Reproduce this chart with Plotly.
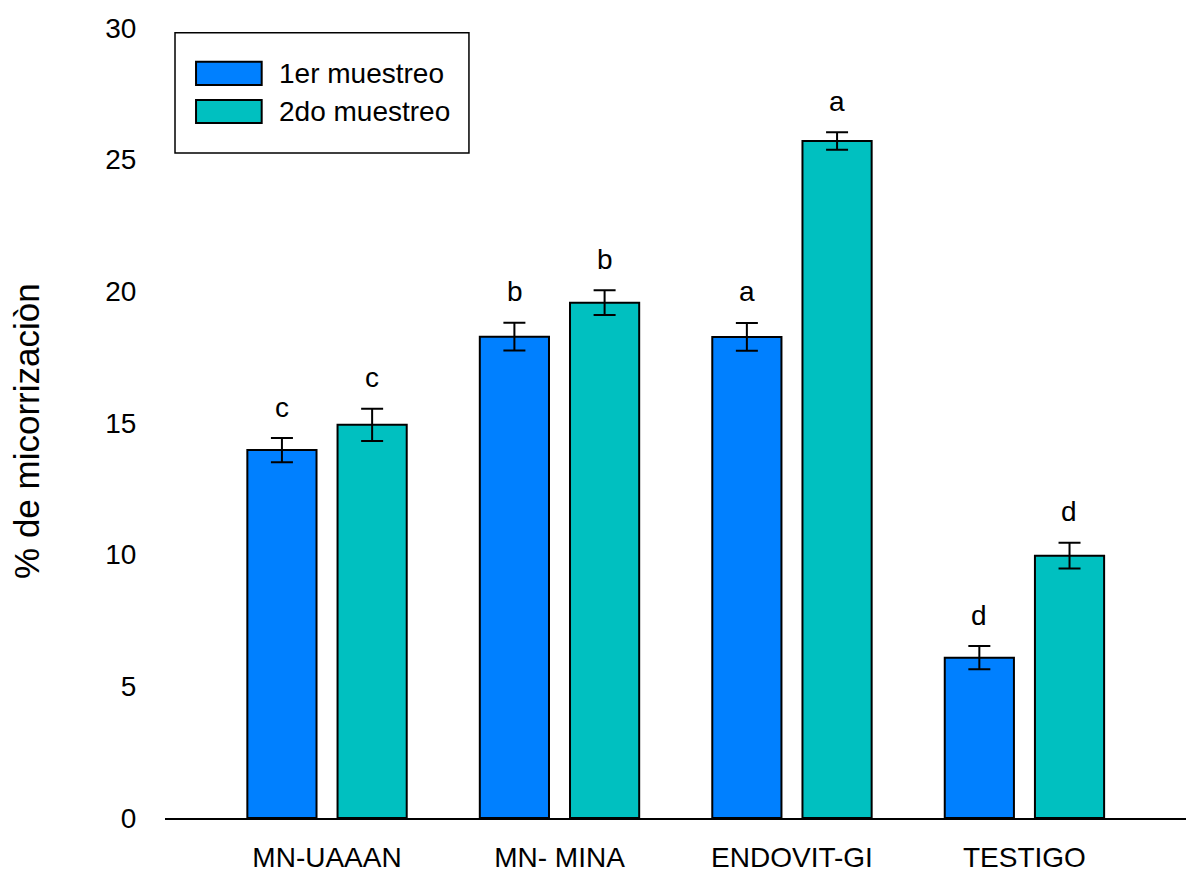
import plotly.graph_objects as go

categories = ["MN-UAAAN", "MN- MINA", "ENDOVIT-GI", "TESTIGO"]
series_names = ["1er muestreo", "2do muestreo"]
muestreo1 = [13.97, 18.28, 18.27, 6.09]
muestreo1_err = [0.46, 0.53, 0.53, 0.44]
muestreo2 = [14.93, 19.57, 25.71, 9.96]
muestreo2_err = [0.61, 0.47, 0.33, 0.49]
letters1 = ["c", "b", "a", "d"]
letters2 = ["c", "b", "a", "d"]
colors = ["#0080FF", "#00C0C0"]
y_ticks = [0, 5, 10, 15, 20, 25, 30]
y_title = "% de micorrizaciòn"

FONT = "Liberation Sans, Arial, sans-serif"

fig = go.Figure()
for name, vals, errs, col in [
    (series_names[0], muestreo1, muestreo1_err, colors[0]),
    (series_names[1], muestreo2, muestreo2_err, colors[1]),
]:
    fig.add_trace(go.Bar(
        x=categories, y=vals, name=name,
        marker=dict(color=col, line=dict(color="black", width=2)),
        error_y=dict(type="data", array=errs, color="black", thickness=2, width=11),
        showlegend=False,
    ))

annotations = []
for i, c in enumerate(categories):
    for letters, vals, errs, shift in [
        (letters1, muestreo1, muestreo1_err, -45),
        (letters2, muestreo2, muestreo2_err, 45),
    ]:
        annotations.append(dict(
            x=c, y=vals[i] + errs[i], xref="x", yref="y",
            text=letters[i], showarrow=False, xshift=shift, yshift=31,
            yanchor="middle", font=dict(size=28, color="black", family=FONT),
        ))

# custom legend (box, swatches, labels) in paper coordinates
shapes = [dict(type="rect", xref="paper", yref="paper",
               x0=0.0098, x1=0.2977, y0=0.8418, y1=0.994,
               line=dict(color="black", width=1.5), fillcolor="white", layer="above")]
sw_y = [(0.9573, 0.9278), (0.9089, 0.8797)]
txt_y = [0.943, 0.8943]
for k in range(2):
    shapes.append(dict(type="rect", xref="paper", yref="paper",
                       x0=0.0304, x1=0.0947, y0=sw_y[k][1], y1=sw_y[k][0],
                       line=dict(color="black", width=2), fillcolor=colors[k], layer="above"))
    annotations.append(dict(x=0.1097, y=txt_y[k], xref="paper", yref="paper",
                            text=series_names[k], showarrow=False, xanchor="left", yanchor="middle",
                            font=dict(size=28, color="black", family=FONT)))

annotations.append(dict(x=-0.1352, y=0.4899, xref="paper", yref="paper", text=y_title,
                        textangle=-90, showarrow=False, xanchor="center", yanchor="middle",
                        font=dict(size=35, color="black", family=FONT)))

fig.update_layout(
    width=1186, height=876,
    margin=dict(l=165, r=0, t=28, b=58),
    paper_bgcolor="white", plot_bgcolor="white",
    barmode="group", bargap=0.224, bargroupgap=0.233,
    font=dict(family=FONT, color="black", size=28),
    shapes=shapes, annotations=annotations,
    showlegend=False,
)
fig.update_xaxes(
    range=[-0.697, 3.695], showline=True, linecolor="black", linewidth=1.5,
    ticks="outside", ticklen=14, tickcolor="rgba(0,0,0,0)",
    tickfont=dict(size=28), showgrid=False, zeroline=False,
)
fig.update_yaxes(
    range=[0, 30], tickvals=y_ticks, showline=False, showgrid=False, zeroline=False,
    ticks="outside", ticklen=22, tickcolor="rgba(0,0,0,0)", tickfont=dict(size=28),
)

fig.write_html("out.html", config={"displayModeBar": False},
               post_script="document.body.style.margin='0';")
